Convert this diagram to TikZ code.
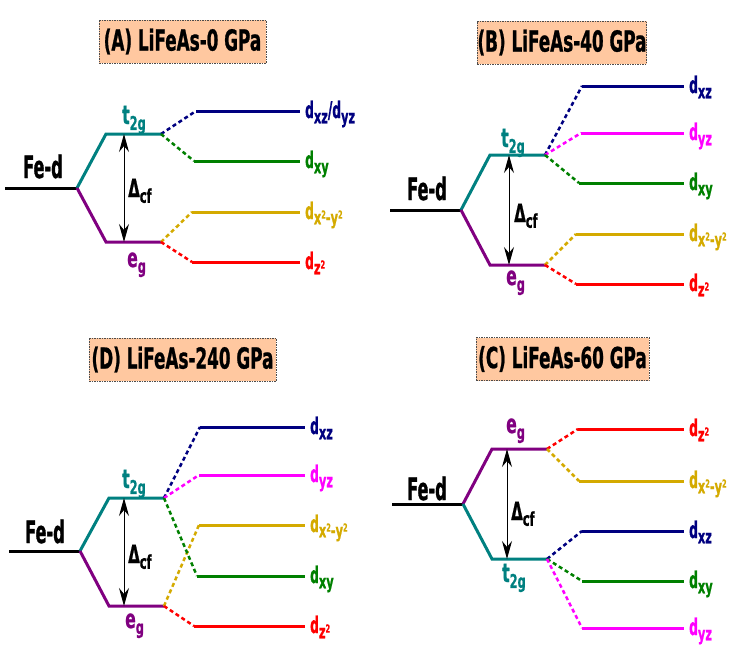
\documentclass[tikz,border=0pt]{standalone}
\usepackage{fontspec}
\setmainfont{DejaVu Sans}[FakeStretch=0.6,FakeBold=0.8]
\newfontfamily\fedfont{DejaVu Sans}[FakeStretch=0.52,FakeBold=1]
\newfontfamily\labfont{DejaVu Sans}[FakeStretch=0.53,FakeBold=0.8]
\newfontfamily\titlefont{DejaVu Sans}[FakeStretch=0.58,FakeBold=0.8]
\usetikzlibrary{arrows.meta}
\definecolor{cnavy}{RGB}{0,0,128}
\definecolor{cgreen}{RGB}{0,128,0}
\definecolor{cgold}{RGB}{212,170,0}
\definecolor{cred}{RGB}{255,0,0}
\definecolor{cmag}{RGB}{255,0,255}
\definecolor{cteal}{RGB}{0,128,128}
\definecolor{cpurp}{RGB}{128,0,128}
\definecolor{cpeach}{RGB}{255,200,160}
\newcommand\lsub[1]{\raisebox{-0.23em}{\fontsize{19}{19}\rmfamily\bfseries #1}}
\newcommand\lsup[1]{\raisebox{0.3em}{\fontsize{11}{11}\selectfont #1}}
\begin{document}
\begin{tikzpicture}[x=1pt,y=-1pt,
  lvl/.style={line width=3pt},
  con/.style={line width=2.5pt, dash pattern=on 4pt off 3pt},
  titlebox/.style={draw=black!70, fill=cpeach, dash pattern=on 1.5pt off 1pt, line width=1pt, minimum height=43pt, inner sep=0pt, font=\fontsize{29}{29}\titlefont\bfseries},
  fed/.style={anchor=base west, inner sep=0pt, font=\fontsize{31}{31}\fedfont\bfseries},
  lab/.style={anchor=base west, inner sep=0pt, font=\fontsize{23}{23}\labfont\bfseries},
  sym/.style={anchor=base west, inner sep=0pt, font=\fontsize{26}{26}\selectfont\bfseries},
  dlt/.style={anchor=base west, inner sep=0pt, font=\fontsize{25}{25}\selectfont\bfseries},
  gap/.style={{Stealth[length=18pt,width=10pt,inset=6pt]}-{Stealth[length=18pt,width=10pt,inset=6pt]}, line width=1pt}
]
\useasboundingbox (0,0) rectangle (748,654);

% ================= Panel A =================
\node[titlebox, minimum width=167pt] (Atitle) at (182.5,41.5) {(A) LiFeAs-0 GPa};
\coordinate (A0) at (5,188); \coordinate (A1) at (77,188);
\coordinate (At1) at (106,134); \coordinate (At2) at (161,134);
\coordinate (Ae1) at (106,242); \coordinate (Ae2) at (161,242);
\coordinate (Aat) at (124,134); \coordinate (Aab) at (124,242);
\coordinate (Ad1a) at (196,111); \coordinate (Ad1b) at (300,111);
\coordinate (Ad2a) at (194,161); \coordinate (Ad2b) at (300,161);
\coordinate (Ad3a) at (192,212); \coordinate (Ad3b) at (300,212);
\coordinate (Ad4a) at (192,262); \coordinate (Ad4b) at (300,262);
\draw[lvl,black] (A0) -- (A1);
\draw[lvl,cteal] (A1) -- (At1) -- (At2);
\draw[lvl,cpurp] (A1) -- (Ae1) -- (Ae2);
\draw[gap] (Aat) -- (Aab);
\draw[con,cnavy] (At2) -- (Ad1a); \draw[lvl,cnavy] (Ad1a) -- (Ad1b);
\draw[con,cgreen] (At2) -- (Ad2a); \draw[lvl,cgreen] (Ad2a) -- (Ad2b);
\draw[con,cgold] (Ae2) -- (Ad3a); \draw[lvl,cgold] (Ad3a) -- (Ad3b);
\draw[con,cred] (Ae2) -- (Ad4a); \draw[lvl,cred] (Ad4a) -- (Ad4b);
\node[fed] (Afed) at (23,178) {Fe-d};
\node[sym,cteal] (At) at (122,124) {t\lsub{2g}};
\node[sym,cpurp] (Ae) at (127,267) {e\lsub{g}};
\node[dlt] (Adl) at (128,197) {Δ\lsub{cf}};
\node[lab,cnavy] (Al1) at (305,118) {d\lsub{xz}/d\lsub{yz}};
\node[lab,cgreen] (Al2) at (305,168) {d\lsub{xy}};
\node[lab,cgold] (Al3) at (305,219) {d\lsub{x\lsup{2}-y\lsup{2}}};
\node[lab,cred] (Al4) at (305,269) {d\lsub{z\lsup{2}}};

% ================= Panel B =================
\node[titlebox, minimum width=168pt] (Btitle) at (562,42.5) {(B) LiFeAs-40 GPa};
\coordinate (B0) at (390,210); \coordinate (B1) at (461,210);
\coordinate (Bt1) at (490,155); \coordinate (Bt2) at (545,155);
\coordinate (Be1) at (490,265); \coordinate (Be2) at (545,265);
\coordinate (Bat) at (509,155); \coordinate (Bab) at (509,265);
\coordinate (Bd1a) at (582,86);  \coordinate (Bd1b) at (684,86);
\coordinate (Bd2a) at (581,133); \coordinate (Bd2b) at (684,133);
\coordinate (Bd3a) at (579,183); \coordinate (Bd3b) at (684,183);
\coordinate (Bd4a) at (576,234); \coordinate (Bd4b) at (684,234);
\coordinate (Bd5a) at (576,284); \coordinate (Bd5b) at (684,284);
\draw[lvl,black] (B0) -- (B1);
\draw[lvl,cteal] (B1) -- (Bt1) -- (Bt2);
\draw[lvl,cpurp] (B1) -- (Be1) -- (Be2);
\draw[gap] (Bat) -- (Bab);
\draw[con,cnavy] (Bt2) -- (Bd1a); \draw[lvl,cnavy] (Bd1a) -- (Bd1b);
\draw[con,cmag] (Bt2) -- (Bd2a); \draw[lvl,cmag] (Bd2a) -- (Bd2b);
\draw[con,cgreen] (Bt2) -- (Bd3a); \draw[lvl,cgreen] (Bd3a) -- (Bd3b);
\draw[con,cgold] (Be2) -- (Bd4a); \draw[lvl,cgold] (Bd4a) -- (Bd4b);
\draw[con,cred] (Be2) -- (Bd5a); \draw[lvl,cred] (Bd5a) -- (Bd5b);
\node[fed] (Bfed) at (407,200) {Fe-d};
\node[sym,cteal] (Bt) at (501,147) {t\lsub{2g}};
\node[sym,cpurp] (Be) at (506,285) {e\lsub{g}};
\node[dlt] (Bdl) at (514,222) {Δ\lsub{cf}};
\node[lab,cnavy] (Bl1) at (689,93) {d\lsub{xz}};
\node[lab,cmag] (Bl2) at (689,140) {d\lsub{yz}};
\node[lab,cgreen] (Bl3) at (689,190) {d\lsub{xy}};
\node[lab,cgold] (Bl4) at (689,241) {d\lsub{x\lsup{2}-y\lsup{2}}};
\node[lab,cred] (Bl5) at (689,291) {d\lsub{z\lsup{2}}};

% ================= Panel D =================
\node[titlebox, minimum width=187pt] (Dtitle) at (182.5,359.5) {(D) LiFeAs-240 GPa};
\coordinate (D0) at (9,551); \coordinate (D1) at (80,551);
\coordinate (Dt1) at (109,498); \coordinate (Dt2) at (164,498);
\coordinate (De1) at (109,606); \coordinate (De2) at (164,606);
\coordinate (Dat) at (124,498); \coordinate (Dab) at (124,606);
\coordinate (Dd1a) at (200,427); \coordinate (Dd1b) at (305,427);
\coordinate (Dd2a) at (199,475); \coordinate (Dd2b) at (305,475);
\coordinate (Dd3a) at (199,525); \coordinate (Dd3b) at (305,525);
\coordinate (Dd4a) at (197,576); \coordinate (Dd4b) at (305,576);
\coordinate (Dd5a) at (194,626); \coordinate (Dd5b) at (305,626);
\draw[lvl,black] (D0) -- (D1);
\draw[lvl,cteal] (D1) -- (Dt1) -- (Dt2);
\draw[lvl,cpurp] (D1) -- (De1) -- (De2);
\draw[gap] (Dat) -- (Dab);
\draw[con,cnavy] (Dt2) -- (Dd1a); \draw[lvl,cnavy] (Dd1a) -- (Dd1b);
\draw[con,cmag] (Dt2) -- (Dd2a); \draw[lvl,cmag] (Dd2a) -- (Dd2b);
\draw[con,cgold] (De2) -- (Dd3a); \draw[lvl,cgold] (Dd3a) -- (Dd3b);
\draw[con,cgreen] (Dt2) -- (Dd4a); \draw[lvl,cgreen] (Dd4a) -- (Dd4b);
\draw[con,cred] (De2) -- (Dd5a); \draw[lvl,cred] (Dd5a) -- (Dd5b);
\node[fed] (Dfed) at (25,543) {Fe-d};
\node[sym,cteal] (Dt) at (122,488) {t\lsub{2g}};
\node[sym,cpurp] (De) at (125,628) {e\lsub{g}};
\node[dlt] (Ddl) at (128,563) {Δ\lsub{cf}};
\node[lab,cnavy] (Dl1) at (310,434) {d\lsub{xz}};
\node[lab,cmag] (Dl2) at (310,482) {d\lsub{yz}};
\node[lab,cgold] (Dl3) at (310,532) {d\lsub{x\lsup{2}-y\lsup{2}}};
\node[lab,cgreen] (Dl4) at (310,583) {d\lsub{xy}};
\node[lab,cred] (Dl5) at (310,633) {d\lsub{z\lsup{2}}};

% ================= Panel C =================
\node[titlebox, minimum width=173pt] (Ctitle) at (562.5,359) {(C) LiFeAs-60 GPa};
\coordinate (C0) at (392,504); \coordinate (C1) at (463,504);
\coordinate (Ce1) at (492,449); \coordinate (Ce2) at (547,449);
\coordinate (Ct1) at (492,559); \coordinate (Ct2) at (547,559);
\coordinate (Cat) at (507,449); \coordinate (Cab) at (507,559);
\coordinate (Cd1a) at (578,429); \coordinate (Cd1b) at (684,429);
\coordinate (Cd2a) at (579,481); \coordinate (Cd2b) at (684,481);
\coordinate (Cd3a) at (582,531); \coordinate (Cd3b) at (684,531);
\coordinate (Cd4a) at (582,581); \coordinate (Cd4b) at (684,581);
\coordinate (Cd5a) at (582,628); \coordinate (Cd5b) at (684,628);
\draw[lvl,black] (C0) -- (C1);
\draw[lvl,cpurp] (C1) -- (Ce1) -- (Ce2);
\draw[lvl,cteal] (C1) -- (Ct1) -- (Ct2);
\draw[gap] (Cat) -- (Cab);
\draw[con,cred] (Ce2) -- (Cd1a); \draw[lvl,cred] (Cd1a) -- (Cd1b);
\draw[con,cgold] (Ce2) -- (Cd2a); \draw[lvl,cgold] (Cd2a) -- (Cd2b);
\draw[con,cnavy] (Ct2) -- (Cd3a); \draw[lvl,cnavy] (Cd3a) -- (Cd3b);
\draw[con,cgreen] (Ct2) -- (Cd4a); \draw[lvl,cgreen] (Cd4a) -- (Cd4b);
\draw[con,cmag] (Ct2) -- (Cd5a); \draw[lvl,cmag] (Cd5a) -- (Cd5b);
\node[fed] (Cfed) at (407,500) {Fe-d};
\node[sym,cpurp] (Ce) at (506,433) {e\lsub{g}};
\node[sym,cteal] (Ct) at (502,582) {t\lsub{2g}};
\node[dlt] (Cdl) at (511,520) {Δ\lsub{cf}};
\node[lab,cred] (Cl1) at (689,436) {d\lsub{z\lsup{2}}};
\node[lab,cgold] (Cl2) at (689,488) {d\lsub{x\lsup{2}-y\lsup{2}}};
\node[lab,cnavy] (Cl3) at (689,538) {d\lsub{xz}};
\node[lab,cgreen] (Cl4) at (689,588) {d\lsub{xy}};
\node[lab,cmag] (Cl5) at (689,635) {d\lsub{yz}};
\end{tikzpicture}
\end{document}
